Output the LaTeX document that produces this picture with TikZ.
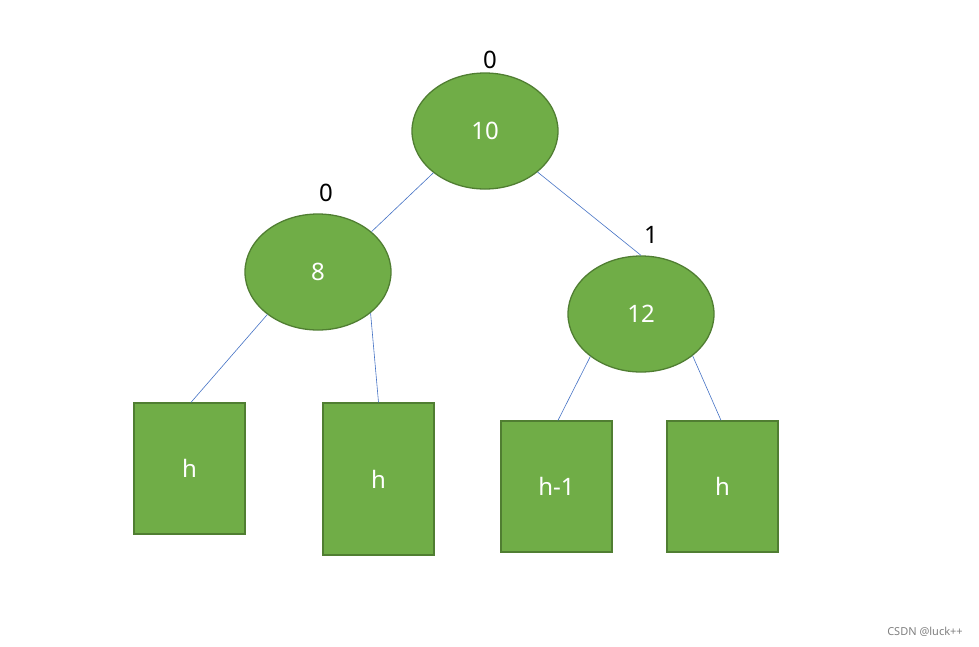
\documentclass[tikz,border=0pt]{standalone}
\usepackage{fontspec}
\setmainfont{Noto Sans}
\usetikzlibrary{shapes.geometric}
\definecolor{ofill}{HTML}{70AD47}
\definecolor{oedge}{HTML}{507E32}
\definecolor{olink}{HTML}{4472C4}
\tikzset{
  treenode/.style={ellipse, draw=oedge, fill=ofill, line width=1.3pt, minimum width=146pt, minimum height=116pt, inner sep=0pt, text=white, font=\fontsize{24}{26}\selectfont},
  subtree/.style={rectangle, draw=oedge, fill=ofill, line width=1.3pt, minimum width=111pt, inner sep=0pt, text=white, font=\fontsize{24}{26}\selectfont},
  balance/.style={text=black, font=\fontsize{24}{26}\selectfont, inner sep=0pt},
  link/.style={draw=olink, line width=0.6pt},
  mark text/.style={text=gray, font=\fontsize{11}{13}\selectfont, inner sep=0pt}
}
\begin{document}
\begin{tikzpicture}[x=1pt, y=-1pt]
\useasboundingbox (0,0) rectangle (979,646);
\node[treenode] (r) at (485,131) {10};
\node[treenode] (a) at (318,272) {8};
\node[treenode] (b) at (641,314) {12};
\node[balance] (lr) at (490,60) {0};
\node[balance] (la) at (326,193) {0};
\node[balance] (lb) at (651,235) {1};
\node[subtree, minimum height=131pt] (t1) at (189.5,468.5) {h};
\node[subtree, minimum height=152pt] (t2) at (378.5,479) {h};
\node[subtree, minimum height=131pt] (t3) at (556.5,486.5) {h-1};
\node[subtree, minimum height=131pt] (t4) at (722.5,486.5) {h};
\draw[link] (r.-141) -- (a.37);
\draw[link] (r.-38) -- (b.north);
\draw[link] (a.-140) -- ([xshift=1.5pt]t1.north);
\draw[link] (a.-38) -- (t2.north);
\draw[link] (b.-140) -- ([xshift=1.5pt]t3.north);
\draw[link] (b.-39) -- ([xshift=-1.5pt]t4.north);
\node[mark text] (wm) at (925,632) {CSDN @luck++};
\end{tikzpicture}
\end{document}
